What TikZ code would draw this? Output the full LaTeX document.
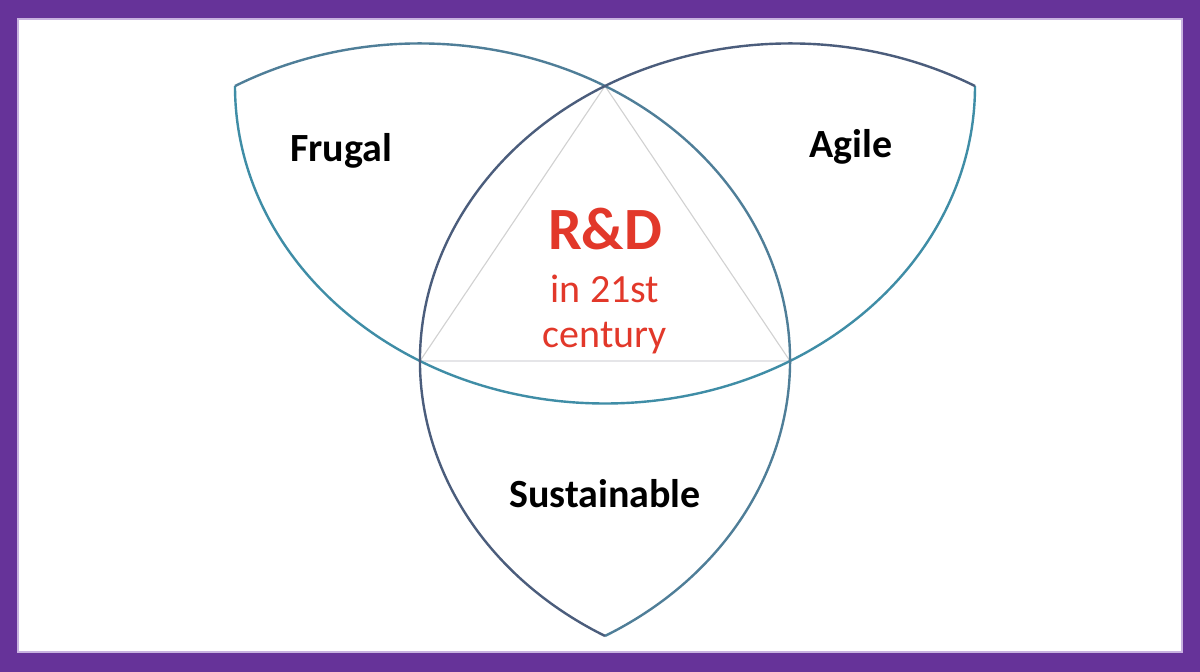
\documentclass[tikz,border=0pt]{standalone}
\usepackage{fontspec}
\setmainfont{Carlito}
\usepackage{tikz}
\definecolor{frame}{HTML}{663399}
\definecolor{rim}{HTML}{C8B2E0}
\definecolor{slate}{HTML}{4B5D7C}
\definecolor{teal}{HTML}{3F8DA6}
\definecolor{tealgray}{HTML}{4F7E98}
\definecolor{rdred}{HTML}{E2382A}

\begin{document}
\begin{tikzpicture}[x=1pt, y=1pt, every node/.style={inner sep=0pt, anchor=base},
  lbl/.style={font=\fontsize{40}{48}\selectfont\bfseries},
  rd/.style={text=rdred, font=\fontsize{40}{48}\selectfont},
  arcline/.style={line width=2.4pt}]
\fill[frame] (0, 0) rectangle (1200, 672);
\fill[white] (18, 20) rectangle (1182, 653);
\draw[rim, line width=1.2pt] (18, 20) rectangle (1182, 653);
\useasboundingbox (0, 0) rectangle (1200, 672);
\coordinate (T) at (605, 586);
\coordinate (L) at (420, 311);
\coordinate (R) at (790, 311);
\coordinate (B) at (605, 36);
\draw[black!18, line width=1.1pt] (T) -- (L);
\draw[black!18, line width=1.1pt] (T) -- (R);
\draw[blue!10!black!10, line width=1.1pt] (L) -- (R);
%% one half circle round each corner
\draw[arcline, teal] (T) ++(180:370 and 317.5) arc[start angle=180, end angle=360, x radius=370, y radius=317.5];
\draw[arcline, tealgray] (L) ++(120:370 and 317.5) arc[start angle=120, end angle=-60, x radius=370, y radius=317.5];
\draw[arcline, slate] (R) ++(60:370 and 317.5) arc[start angle=60, end angle=240, x radius=370, y radius=317.5];
\node[lbl] (frugal) at (341, 510) {Frugal};
\node[lbl] (agile) at (851, 514) {Agile};
\node[lbl] (sust) at (605, 164) {Sustainable};
\node[rd, font=\fontsize{60}{72}\selectfont\bfseries] (rnd) at (605, 422) {R\&D};
\node[rd] (in21) at (605, 369) {in 21st};
\node[rd] (cent) at (605, 324) {century};
\end{tikzpicture}
\end{document}
